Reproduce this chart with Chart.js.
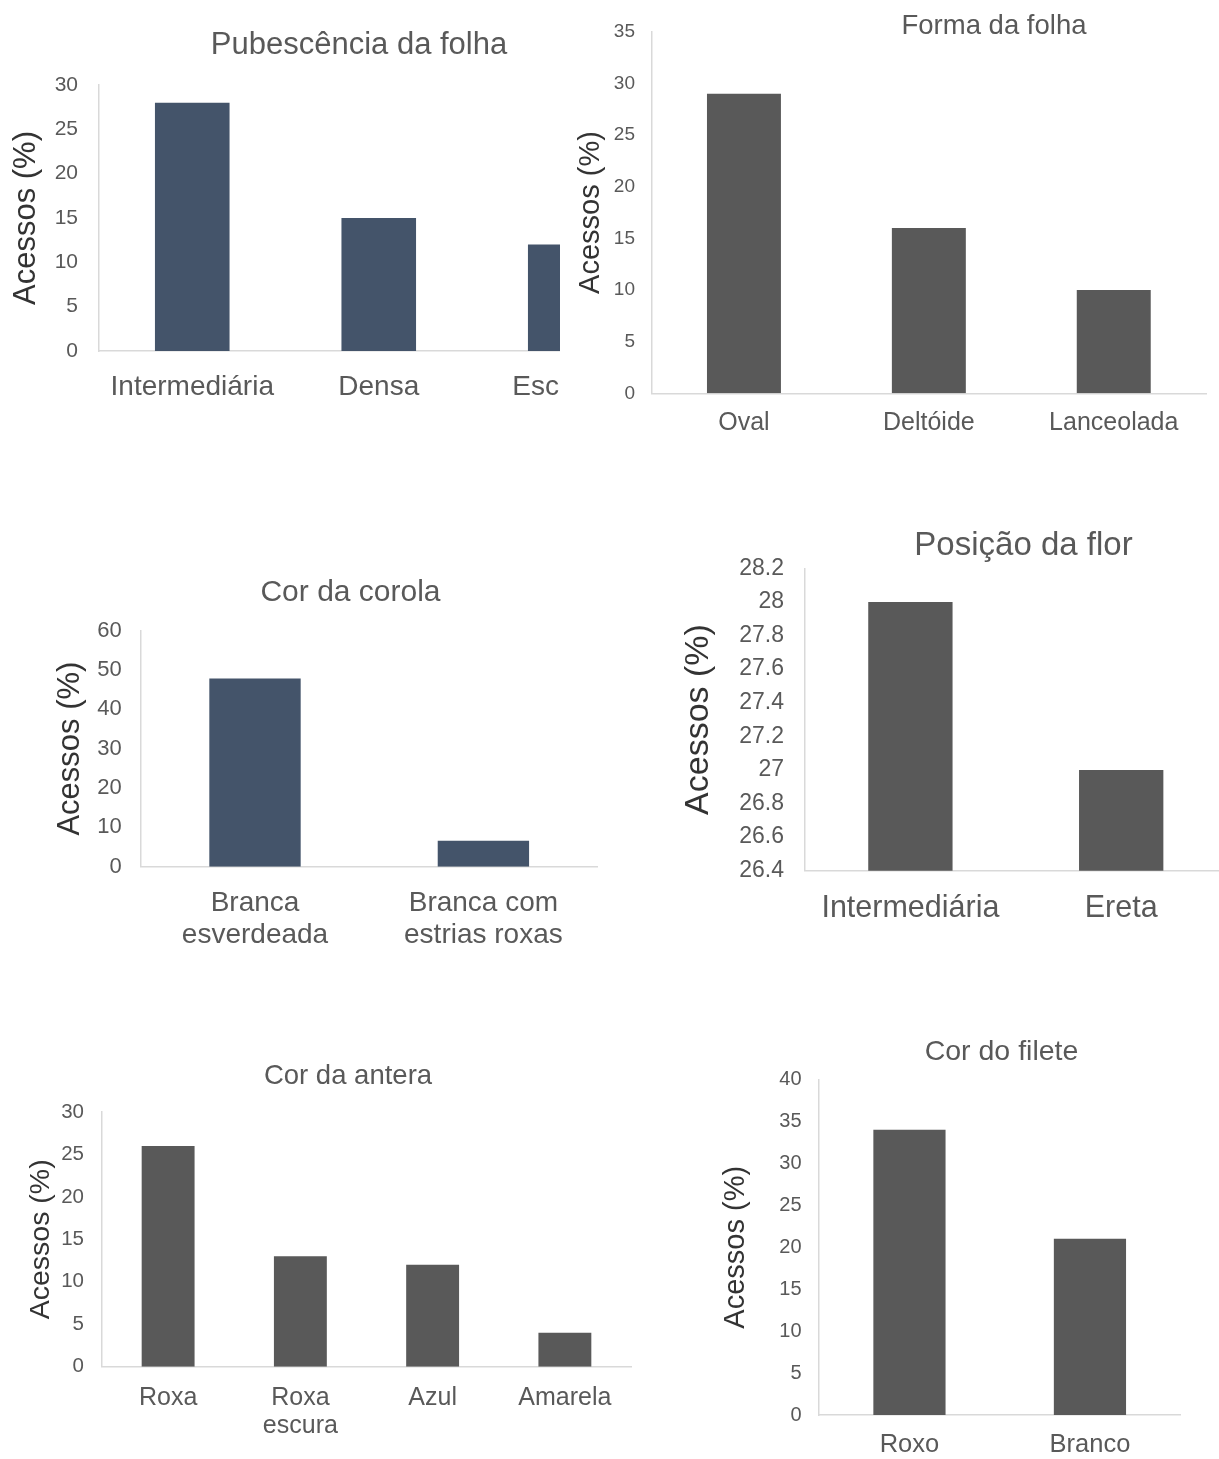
<!DOCTYPE html>
<html lang="pt">
<head>
    <meta charset="UTF-8">
    <title>Caracteres morfológicos - acessos (%)</title>
    <script src="https://cdn.jsdelivr.net/npm/chart.js"></script>
    <style>
        html, body { margin: 0; padding: 0; background: #fff; }
        body { width: 1219px; height: 1459px; position: relative; overflow: hidden; }
        .box { position: absolute; overflow: hidden; }
        canvas { position: absolute; left: 0; top: 0; }
    </style>
</head>
<body>
    <div class="box" id="boxPub"><canvas id="pubChart"></canvas></div>
    <div class="box" id="boxForma"><canvas id="formaChart"></canvas></div>
    <div class="box" id="boxCorola"><canvas id="corolaChart"></canvas></div>
    <div class="box" id="boxFlor"><canvas id="florChart"></canvas></div>
    <div class="box" id="boxAntera"><canvas id="anteraChart"></canvas></div>
    <div class="box" id="boxFilete"><canvas id="fileteChart"></canvas></div>

    <script>
        // dados
        const pubCats = ['Intermediária', 'Densa', 'Escassa'];
        const pubVals = [28, 15, 12];
        const pubTicks = [0, 5, 10, 15, 20, 25, 30];

        const formaCats = ['Oval', 'Deltóide', 'Lanceolada'];
        const formaVals = [29, 16, 10];
        const formaTicks = [0, 5, 10, 15, 20, 25, 30, 35];

        const corolaCats = [['Branca', 'esverdeada'], ['Branca com', 'estrias roxas']];
        const corolaVals = [47.8, 6.6];
        const corolaTicks = [0, 10, 20, 30, 40, 50, 60];

        const florCats = ['Intermediária', 'Ereta'];
        const florVals = [28, 27];
        const florTicks = [26.4, 26.6, 26.8, 27, 27.2, 27.4, 27.6, 27.8, 28, 28.2];

        const anteraCats = ['Roxa', ['Roxa', 'escura'], 'Azul', 'Amarela'];
        const anteraVals = [26, 13, 12, 4];
        const anteraTicks = [0, 5, 10, 15, 20, 25, 30];

        const fileteCats = ['Roxo', 'Branco'];
        const fileteVals = [34, 21];
        const fileteTicks = [0, 5, 10, 15, 20, 25, 30, 35, 40];

        const FONT = "'Liberation Sans', Arial, sans-serif";
        const TEXT = '#595959';
        const AXIS = '#d9d9d9';
        const BLUE = '#44546A';
        const GREY = '#595959';

        function drawBar(boxId, canvasId, title, cats, vals, yTicks, L) {
            const box = document.getElementById(boxId);
            box.style.left = L.left + 'px';
            box.style.top = L.top + 'px';
            box.style.width = (L.clipW || L.w) + 'px';
            box.style.height = L.h + 'px';
            const canvas = document.getElementById(canvasId);
            canvas.width = L.w;
            canvas.height = L.h;

            const titleLh = L.titleSize * 0.4;
            const yTitleLh = L.yTitleSize * 1.2;

            return new Chart(canvas, {
                type: 'bar',
                data: {
                    labels: cats,
                    datasets: [{
                        data: vals,
                        backgroundColor: L.color,
                        borderWidth: 0,
                        barPercentage: 0.4,
                        categoryPercentage: 1
                    }]
                },
                options: {
                    responsive: false,
                    animation: false,
                    layout: { padding: 0 },
                    plugins: {
                        legend: { display: false },
                        tooltip: { enabled: false },
                        title: {
                            display: true,
                            text: title,
                            color: TEXT,
                            font: { family: FONT, size: L.titleSize, weight: 'normal', lineHeight: 0.4 },
                            padding: {
                                top: L.titleY - L.top - titleLh / 2,
                                bottom: L.axisTop - L.titleY - titleLh / 2
                            }
                        }
                    },
                    scales: {
                        x: {
                            grid: { display: false, drawTicks: false },
                            border: { display: true, color: AXIS, width: 1.5 },
                            ticks: {
                                color: TEXT,
                                font: { family: FONT, size: L.labelSize, lineHeight: L.labelLine },
                                padding: L.labelPad,
                                autoSkip: false,
                                maxRotation: 0
                            },
                            afterFit: s => { s.height = L.top + L.h - L.axisBottom; }
                        },
                        y: {
                            min: yTicks[0],
                            max: yTicks[yTicks.length - 1],
                            grid: { display: false, drawTicks: false },
                            border: { display: true, color: AXIS, width: 1.5 },
                            ticks: {
                                color: TEXT,
                                font: { family: FONT, size: L.tickSize },
                                padding: L.tickPad,
                                callback: v => String(v)
                            },
                            afterBuildTicks: s => { s.ticks = yTicks.map(v => ({ value: v })); },
                            title: {
                                display: true,
                                text: 'Acessos (%)',
                                color: '#333333',
                                font: { family: FONT, size: L.yTitleSize, lineHeight: 1.2 },
                                padding: { top: L.yTitleX - L.left - yTitleLh / 2, bottom: 0 }
                            },
                            afterFit: s => { s.width = L.axisX - L.left; }
                        },
                        // espaço vazio à direita para centrar o título como no original
                        yR: {
                            position: 'right',
                            grid: { display: false, drawTicks: false },
                            border: { display: false },
                            ticks: { display: false },
                            afterFit: s => { s.width = L.left + L.w - L.plotRight; }
                        }
                    }
                }
            });
        }

        drawBar('boxPub', 'pubChart', 'Pubescência da folha', pubCats, pubVals, pubTicks, {
            left: 0, top: 0, w: 718, h: 420, clipW: 560,
            axisX: 99, axisTop: 85, axisBottom: 351, plotRight: 658.5,
            titleY: 45, titleSize: 31,
            tickSize: 21, tickPad: 21,
            labelSize: 28, labelPad: 19.5, labelLine: 1.2,
            yTitleX: 26.5, yTitleSize: 31,
            color: BLUE
        });

        drawBar('boxForma', 'formaChart', 'Forma da folha', formaCats, formaVals, formaTicks, {
            left: 566, top: 0, w: 856, h: 450,
            axisX: 651.5, axisTop: 31.7, axisBottom: 393.3, plotRight: 1206.2,
            titleY: 26.7, titleSize: 27.5,
            tickSize: 19, tickPad: 16.5,
            labelSize: 25, labelPad: 15.2, labelLine: 1.2,
            yTitleX: 590.5, yTitleSize: 29,
            color: GREY
        });

        drawBar('boxCorola', 'corolaChart', 'Cor da corola', corolaCats, corolaVals, corolaTicks, {
            left: 0, top: 560, w: 701, h: 400,
            axisX: 140.8, axisTop: 630.5, axisBottom: 866.7, plotRight: 597.6,
            titleY: 592.3, titleSize: 30,
            tickSize: 22, tickPad: 19,
            labelSize: 28, labelPad: 20.5, labelLine: 1.15,
            yTitleX: 70, yTitleSize: 31,
            color: BLUE
        });

        drawBar('boxFlor', 'florChart', 'Posição da flor', florCats, florVals, florTicks, {
            left: 660, top: 520, w: 727, h: 420,
            axisX: 805, axisTop: 568.3, axisBottom: 870.7, plotRight: 1226.6,
            titleY: 546, titleSize: 33,
            tickSize: 23, tickPad: 21,
            labelSize: 30.5, labelPad: 19.2, labelLine: 1.2,
            yTitleX: 699, yTitleSize: 34,
            color: GREY
        });

        drawBar('boxAntera', 'anteraChart', 'Cor da antera', anteraCats, anteraVals, anteraTicks, {
            left: 0, top: 1050, w: 696, h: 400,
            axisX: 102, axisTop: 1112, axisBottom: 1366.7, plotRight: 631,
            titleY: 1076.7, titleSize: 27.5,
            tickSize: 20.5, tickPad: 18,
            labelSize: 25, labelPad: 17, labelLine: 1.14,
            yTitleX: 41.5, yTitleSize: 28.5,
            color: GREY
        });

        drawBar('boxFilete', 'fileteChart', 'Cor do filete', fileteCats, fileteVals, fileteTicks, {
            left: 700, top: 1030, w: 603, h: 429,
            axisX: 819.2, axisTop: 1079.5, axisBottom: 1415, plotRight: 1180.2,
            titleY: 1051.7, titleSize: 28.5,
            tickSize: 20, tickPad: 17.7,
            labelSize: 25.5, labelPad: 14.7, labelLine: 1.2,
            yTitleX: 735.5, yTitleSize: 29,
            color: GREY
        });
    </script>
</body>
</html>
